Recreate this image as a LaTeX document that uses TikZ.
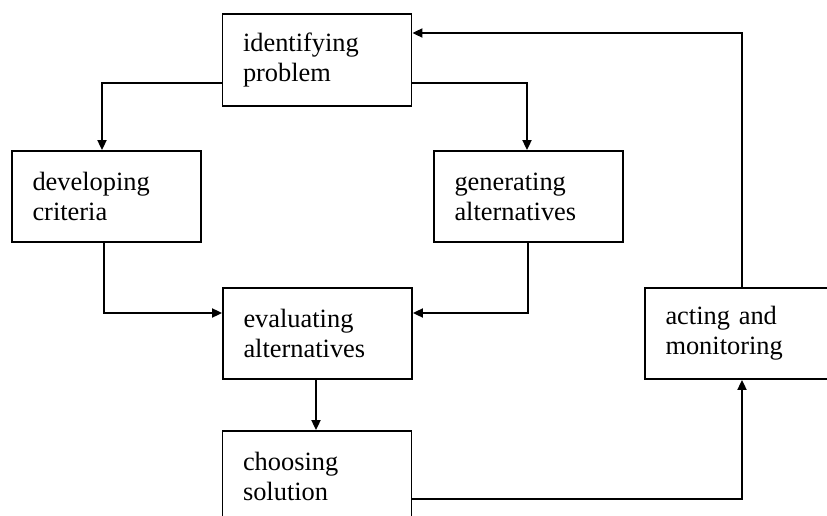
\documentclass[tikz,border=0pt]{standalone}
\usepackage{fontspec}
\setmainfont{Liberation Serif}
\usetikzlibrary{arrows.meta,calc}
\begin{document}
\begin{tikzpicture}[x=1pt,y=1pt,
  box/.style={draw, line width=1.8pt, minimum height=91pt, inner xsep=20.5pt,
    align=left, text width=148pt, font={\fontsize{26.4}{30}\selectfont}},
  arr/.style={line width=1.8pt, -{Triangle[length=10pt,width=9pt]}}]
\useasboundingbox (0,0) rectangle (827,-516);
\clip (0,0) rectangle (827,-516);
\fill[white] (0,0) rectangle (827,-516);
\node[box, minimum height=92pt] (ip) at (317,-60) {identifying\\problem};
\node[box] (dc) at (106.5,-196.5) {developing\\criteria};
\node[box] (ga) at (528.5,-196.5) {generating\\alternatives};
\node[box] (ea) at (317.5,-333.5) {evaluating\\alternatives};
\node[box] (cs) at (317,-476.5) {choosing\\solution};
\node[box] (am) at (739.5,-333.5) {acting and\\monitoring};
% connectors
\draw[arr] ([yshift=-23pt]ip.west) -| ([xshift=-4.5pt]dc.north);
\draw[arr] ([yshift=-23pt]ip.east) -| ([xshift=-1.5pt]ga.north);
\draw[arr] ([xshift=-2.5pt]dc.south) |- ([yshift=20.5pt]ea.west);
\draw[arr] ([xshift=-0.5pt]ga.south) |- ([yshift=20.5pt]ea.east);
\draw[arr] ([xshift=-1.5pt]ea.south) -- ([xshift=-1pt]cs.north);
\draw[arr] ([yshift=-22.5pt]cs.east) -| ([xshift=2.5pt]am.south);
\coordinate (top) at (742,-33);
\draw[arr] ([xshift=2.5pt]am.north) |- ([yshift=27pt]ip.east);
\end{tikzpicture}
\end{document}
